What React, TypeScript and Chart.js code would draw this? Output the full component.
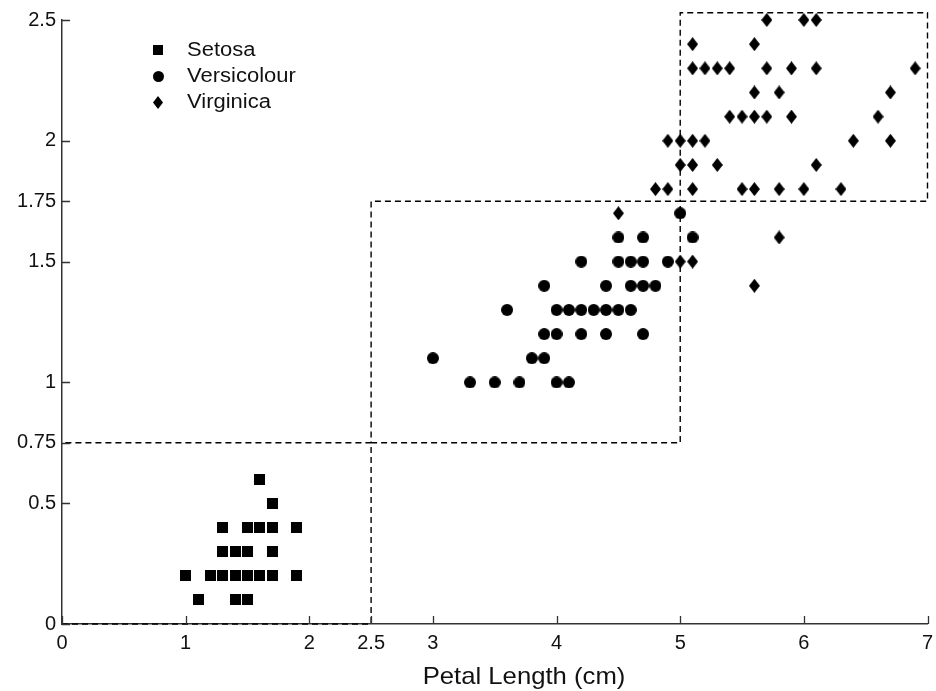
import { useEffect, useRef } from "react";
import { Chart, registerables } from "chart.js";

Chart.register(...registerables);

// ---- data ----
const seriesNames = ["Setosa", "Versicolour", "Virginica"];

const setosaLength = [1.6, 1.7, 1.3, 1.5, 1.6, 1.7, 1.9, 1.3, 1.4, 1.5, 1.7, 1.0, 1.2, 1.3, 1.4, 1.5, 1.6, 1.7, 1.9, 1.1, 1.4, 1.5];
const setosaWidth = [0.6, 0.5, 0.4, 0.4, 0.4, 0.4, 0.4, 0.3, 0.3, 0.3, 0.3, 0.2, 0.2, 0.2, 0.2, 0.2, 0.2, 0.2, 0.2, 0.1, 0.1, 0.1];

const versicolourLength = [5.0, 4.5, 4.7, 5.1, 4.2, 4.5, 4.6, 4.7, 4.9, 3.9, 4.4, 4.6, 4.7, 4.8, 3.6, 4.0, 4.1, 4.2, 4.3, 4.4, 4.5, 4.6, 3.9, 4.0, 4.2, 4.4, 4.7, 3.0, 3.8, 3.9, 3.3, 3.5, 3.7, 4.0, 4.1];
const versicolourWidth = [1.7, 1.6, 1.6, 1.6, 1.5, 1.5, 1.5, 1.5, 1.5, 1.4, 1.4, 1.4, 1.4, 1.4, 1.3, 1.3, 1.3, 1.3, 1.3, 1.3, 1.3, 1.3, 1.2, 1.2, 1.2, 1.2, 1.2, 1.1, 1.1, 1.1, 1.0, 1.0, 1.0, 1.0, 1.0];

const virginicaLength = [5.7, 6.0, 6.1, 5.1, 5.6, 5.1, 5.2, 5.3, 5.4, 5.7, 5.9, 6.1, 6.9, 5.6, 5.8, 6.7, 5.4, 5.5, 5.6, 5.7, 5.9, 6.6, 4.9, 5.0, 5.1, 5.2, 6.4, 6.7, 5.0, 5.1, 5.3, 6.1, 4.8, 4.9, 5.1, 5.5, 5.6, 5.8, 6.0, 6.3, 4.5, 5.8, 5.0, 5.1, 5.6];
const virginicaWidth = [2.5, 2.5, 2.5, 2.4, 2.4, 2.3, 2.3, 2.3, 2.3, 2.3, 2.3, 2.3, 2.3, 2.2, 2.2, 2.2, 2.1, 2.1, 2.1, 2.1, 2.1, 2.1, 2.0, 2.0, 2.0, 2.0, 2.0, 2.0, 1.9, 1.9, 1.9, 1.9, 1.8, 1.8, 1.8, 1.8, 1.8, 1.8, 1.8, 1.8, 1.7, 1.6, 1.5, 1.5, 1.4];

// decision boundary rectangles
const box1X = [0, 2.5, 2.5, 0];
const box1Y = [0, 0, 0.75, 0.75];
const box2X = [2.5, 5, 5, 2.5, 2.5];
const box2Y = [0.75, 0.75, 1.75, 1.75, 0.75];
const box3X = [5, 7, 7, 5, 5];
const box3Y = [1.75, 1.75, 2.53, 2.53, 1.75];

const xTickValues = [0, 1, 2, 2.5, 3, 4, 5, 6, 7];
const yTickValues = [0, 0.5, 0.75, 1, 1.5, 1.75, 2, 2.5];
const xAxisTitle = "Petal Length (cm)";

const FONT = "'Liberation Sans', Arial, Helvetica, sans-serif";

function zip(xs: number[], ys: number[]) {
  return xs.map((x, i) => ({ x, y: ys[i] }));
}

function makeMarker(kind: string, scale = 1): HTMLCanvasElement {
  const c = document.createElement("canvas");
  const ctx = c.getContext("2d")!;
  if (kind === "square") {
    const s = Math.round(11 * scale);
    c.width = s; c.height = s;
    ctx.fillStyle = "#000";
    ctx.fillRect(0, 0, s, s);
  } else if (kind === "circle") {
    const s = Math.round(12 * scale);
    c.width = s; c.height = s;
    ctx.fillStyle = "#000";
    ctx.beginPath();
    ctx.arc(s / 2, s / 2, s / 2, 0, Math.PI * 2);
    ctx.fill();
  } else {
    const w = Math.round(11 * scale);
    const h = Math.round(14 * scale);
    c.width = w; c.height = h;
    ctx.fillStyle = "#000";
    ctx.beginPath();
    ctx.moveTo(w / 2, 0);
    ctx.lineTo(w, h / 2);
    ctx.lineTo(w / 2, h);
    ctx.lineTo(0, h / 2);
    ctx.closePath();
    ctx.fill();
  }
  return c;
}

export default function App() {
  const ref = useRef<HTMLCanvasElement | null>(null);

  useEffect(() => {
    if (!ref.current) return;
    const markers = [makeMarker("square"), makeMarker("circle"), makeMarker("diamond")];
    const legendMarkers = [makeMarker("square", 0.9), makeMarker("circle", 0.92), makeMarker("diamond", 0.9)];

    const pointDs = (label: string, data: any[], style: HTMLCanvasElement) => ({
      label,
      data,
      pointStyle: style,
      pointRadius: 6,
      pointHoverRadius: 6,
      backgroundColor: "#000",
      borderColor: "#000",
      showLine: false,
      clip: false as any,
    });
    const lineDs = (data: any[]) => ({
      label: "boundary",
      data,
      showLine: true,
      borderColor: "#000",
      borderWidth: 1.4,
      borderDash: [6, 4],
      pointRadius: 0,
      pointHoverRadius: 0,
      tension: 0,
      fill: false,
      clip: false as any,
    });

    const inwardTicks = {
      id: "inwardTicks",
      afterDraw(chart: any) {
        const { ctx, chartArea } = chart;
        const xs = chart.scales.x;
        const ys = chart.scales.y;
        ctx.save();
        ctx.strokeStyle = "#333";
        ctx.lineWidth = 1.3;
        ctx.beginPath();
        xTickValues.forEach((v) => {
          const px = Math.round(xs.getPixelForValue(v)) + 0.5;
          ctx.moveTo(px, chartArea.bottom);
          ctx.lineTo(px, chartArea.bottom - 8);
        });
        yTickValues.forEach((v) => {
          const py = Math.round(ys.getPixelForValue(v)) + 0.5;
          ctx.moveTo(chartArea.left, py);
          ctx.lineTo(chartArea.left + 8, py);
        });
        ctx.stroke();
        ctx.restore();
      },
    };

    const textOverlay = {
      id: "textOverlay",
      afterDraw(chart: any) {
        const { ctx } = chart;
        ctx.save();
        ctx.fillStyle = "#111";
        ctx.textBaseline = "middle";
        // legend
        ctx.font = `20px ${FONT}`;
        ctx.textAlign = "left";
        const rowsY = [50, 76, 102];
        seriesNames.forEach((name, i) => {
          const m = legendMarkers[i];
          ctx.drawImage(m, Math.round(158 - m.width / 2), Math.round(rowsY[i] - m.height / 2));
          ctx.save();
          ctx.translate(187, rowsY[i]);
          ctx.scale(1.1, 1);
          ctx.fillText(name, 0, 0);
          ctx.restore();
        });
        // x axis title
        ctx.font = `24px ${FONT}`;
        ctx.textAlign = "center";
        ctx.save();
        ctx.translate(524, 677);
        ctx.scale(1.07, 1);
        ctx.fillText(xAxisTitle, 0, 0);
        ctx.restore();
        ctx.restore();
      },
    };

    const chart = new Chart(ref.current, {
      type: "scatter",
      data: {
        datasets: [
          pointDs(seriesNames[0], zip(setosaLength, setosaWidth), markers[0]),
          pointDs(seriesNames[1], zip(versicolourLength, versicolourWidth), markers[1]),
          pointDs(seriesNames[2], zip(virginicaLength, virginicaWidth), markers[2]),
          lineDs(zip(box1X, box1Y)),
          lineDs(zip(box2X, box2Y)),
          lineDs(zip(box3X, box3Y)),
        ] as any,
      },
      options: {
        animation: false,
        responsive: true,
        maintainAspectRatio: false,
        events: [],
        layout: { padding: { top: 20, right: 8.5, left: 0, bottom: 0 } },
        plugins: {
          legend: { display: false },
          tooltip: { enabled: false },
        },
        scales: {
          x: {
            type: "linear",
            min: 0,
            max: 7,
            afterBuildTicks: (scale: any) => {
              scale.ticks = xTickValues.map((v) => ({ value: v }));
            },
            afterFit: (scale: any) => {
              scale.height = 67;
              scale.paddingRight = 0;
              scale.paddingLeft = 0;
            },
            grid: { display: false, drawTicks: false },
            border: { display: true, color: "#333", width: 1.5 },
            ticks: {
              autoSkip: false,
              maxRotation: 0,
              padding: 7,
              color: "#111",
              font: { family: FONT, size: 20 },
              callback: (v: any) => String(v),
            },
            title: { display: false },
          },
          y: {
            type: "linear",
            min: 0,
            max: 2.5,
            afterBuildTicks: (scale: any) => {
              scale.ticks = yTickValues.map((v) => ({ value: v }));
            },
            afterFit: (scale: any) => {
              scale.width = 62;
              scale.paddingTop = 0;
              scale.paddingBottom = 0;
            },
            grid: { display: false, drawTicks: false },
            border: { display: true, color: "#333", width: 1.5 },
            ticks: {
              autoSkip: false,
              padding: 6,
              color: "#111",
              font: { family: FONT, size: 20 },
              callback: (v: any) => String(v),
            },
          },
        },
      } as any,
      plugins: [inwardTicks, textOverlay],
    });
    return () => chart.destroy();
  }, []);

  return (
    <div style={{ position: "fixed", left: 0, top: 0, width: 936, height: 691, background: "#fff" }}>
      <canvas ref={ref} />
    </div>
  );
}
